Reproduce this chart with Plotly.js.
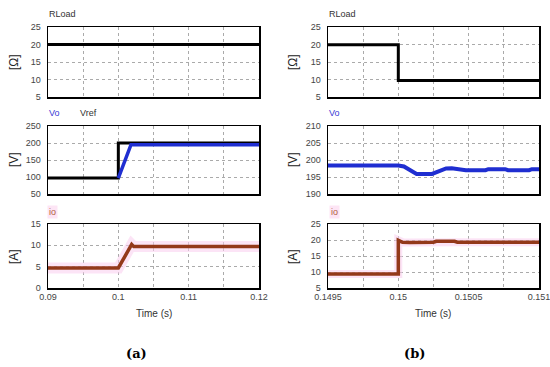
<!DOCTYPE html>
<html><head><meta charset="utf-8">
<script src="https://cdn.plot.ly/plotly-3.0.1.min.js"></script>
<style>html,body{margin:0;padding:0;background:#fff}#c{width:550px;height:367px}</style>
</head><body><div id="c"></div>
<script>
// ---- data: panel (a) ----
const tA_R = [0.09, 0.1202];
const rA = [20, 20];
const tA_ref = [0.09, 0.1, 0.1, 0.1202];
const vrefA = [97, 97, 200, 200];
const tA_vo = [0.1, 0.1018, 0.1202];
const voA = [97, 195, 195];
const tA_io = [0.09, 0.1, 0.1019, 0.1022, 0.1202];
const ioA = [4.7, 4.7, 10.2, 9.7, 9.7];
// ---- data: panel (b) ----
const tB_R = [0.1495, 0.15, 0.15, 0.1511];
const rB = [19.9, 19.9, 9.7, 9.7];
const tB_vo = [0.1495, 0.15, 0.15004, 0.15008, 0.15013, 0.15024, 0.15028, 0.15034, 0.15038, 0.15044, 0.15048, 0.15062, 0.15064, 0.15076, 0.15078, 0.15093, 0.15095, 0.1511];
const voB = [198.4, 198.4, 198.1, 197.0, 195.9, 195.9, 196.5, 197.5, 197.6, 197.2, 197.0, 197.0, 197.3, 197.3, 197.0, 197.0, 197.3, 197.3];
const tB_io = [0.1495, 0.15, 0.15, 0.15003, 0.15008, 0.15025, 0.15027, 0.1504, 0.15042, 0.1511];
const ioB = [9.4, 9.4, 19.9, 19.3, 19.2, 19.3, 19.6, 19.6, 19.3, 19.3];
// tick labels
const xTicksA = [0.09, 0.1, 0.11, 0.12];
const xTextA = ['0.09', '0.1', '0.11', '0.12'];
const xTicksB = [0.1495, 0.15, 0.1505, 0.151];
const xTextB = ['0.1495', '0.15', '0.1505', '0.151'];

const BLUE = '#1f2ed1', BROWN = '#93391a', PINK = 'rgba(250,205,238,0.55)';
const traces = [
  {x: tA_R, y: rA, xaxis: 'x', yaxis: 'y', mode: 'lines', line: {color: '#000', width: 3}},
  {x: tA_ref, y: vrefA, xaxis: 'x2', yaxis: 'y2', mode: 'lines', line: {color: '#000', width: 3}},
  {x: tA_vo, y: voA, xaxis: 'x2', yaxis: 'y2', mode: 'lines', line: {color: BLUE, width: 3.5}},
  {x: tA_io, y: ioA, xaxis: 'x3', yaxis: 'y3', mode: 'lines', line: {color: PINK, width: 11}},
  {x: tA_io, y: ioA, xaxis: 'x3', yaxis: 'y3', mode: 'lines', line: {color: BROWN, width: 3.5}},
  {x: tB_R, y: rB, xaxis: 'x4', yaxis: 'y4', mode: 'lines', line: {color: '#000', width: 3}},
  {x: tB_vo, y: voB, xaxis: 'x5', yaxis: 'y5', mode: 'lines', line: {color: BLUE, width: 4}},
  {x: tB_io, y: ioB, xaxis: 'x6', yaxis: 'y6', mode: 'lines', line: {color: PINK, width: 8}},
  {x: tB_io, y: ioB, xaxis: 'x6', yaxis: 'y6', mode: 'lines', line: {color: BROWN, width: 3.5}}
];
traces.forEach(t => { t.showlegend = false; t.hoverinfo = 'skip'; });

const W = 550, H = 367;
const px = v => v / W, py = v => 1 - v / H;
const domL = [px(48), px(259)], domR = [px(328), px(539)];
const domT = [py(97), py(27)], domM = [py(194), py(126)], domB = [py(288), py(224)];
const tickFont = {family: 'Liberation Sans, Arial, sans-serif', size: 9, color: '#444'};
function xa(dom, range, anchor, minor, vals, text, labels) {
  return {domain: dom, range: range, anchor: anchor, showline: true, mirror: true, linecolor: '#000', linewidth: 1.5,
    showgrid: true, gridcolor: '#aaa', griddash: 'dot', gridwidth: 1, zeroline: false, ticks: '',
    tickmode: 'array', tickvals: vals, ticktext: text, showticklabels: labels, tickfont: tickFont,
    ticklabeloverflow: 'allow',
    minor: {dtick: minor, tick0: range[0], showgrid: true, gridcolor: '#aaa', griddash: 'dot', gridwidth: 1, ticks: ''}};
}
function ya(dom, range, anchor, dtick) {
  return {domain: dom, range: range, anchor: anchor, showline: true, mirror: true, linecolor: '#000', linewidth: 1.5,
    showgrid: true, gridcolor: '#aaa', griddash: 'dot', gridwidth: 1, zeroline: false, ticks: '',
    dtick: dtick, tick0: range[0], tickfont: tickFont, ticklabelstandoff: 4};
}
const lab = {family: 'Liberation Sans, Arial, sans-serif', size: 9, color: '#333'};
function ann(text, x, y, font, extra) {
  return Object.assign({text: text, xref: 'paper', yref: 'paper', x: px(x), y: py(y), showarrow: false,
    xanchor: 'left', yanchor: 'middle', font: font}, extra || {});
}
const axFont = {family: 'Liberation Sans, Arial, sans-serif', size: 12, color: '#222'};
const capFont = {family: 'DejaVu Serif, serif', size: 13, color: '#000'};
const RA = [0.09, 0.120001], RB = [0.1495, 0.1510005];
const layout = {
  width: W, height: H, autosize: false, margin: {l: 0, r: 0, t: 0, b: 0},
  paper_bgcolor: '#fff', plot_bgcolor: '#fff', showlegend: false,
  xaxis: xa(domL, RA, 'y', 0.005, xTicksA, xTextA, false),
  yaxis: ya(domT, [5, 25], 'x', 5),
  xaxis2: xa(domL, RA, 'y2', 0.005, xTicksA, xTextA, false),
  yaxis2: ya(domM, [50, 250], 'x2', 50),
  xaxis3: xa(domL, RA, 'y3', 0.005, xTicksA, xTextA, true),
  yaxis3: ya(domB, [0, 15], 'x3', 5),
  xaxis4: xa(domR, RB, 'y4', 0.00025, xTicksB, xTextB, false),
  yaxis4: ya(domT, [5, 25], 'x4', 5),
  xaxis5: xa(domR, RB, 'y5', 0.00025, xTicksB, xTextB, false),
  yaxis5: ya(domM, [190, 210], 'x5', 5),
  xaxis6: xa(domR, RB, 'y6', 0.00025, xTicksB, xTextB, true),
  yaxis6: ya(domB, [5, 25], 'x6', 5),
  annotations: [
    ann('RLoad', 47, 14, lab), ann('RLoad', 327, 14, lab),
    ann('Vo', 47, 113, Object.assign({}, lab, {color: '#3a3ad6'})),
    ann('Vref', 78, 113, lab),
    ann('Vo', 327, 113, Object.assign({}, lab, {color: '#3a3ad6'})),
    ann('io', 47, 212, Object.assign({}, lab, {color: '#b06040'}), {bgcolor: 'rgba(252,222,242,0.8)'}),
    ann('io', 329, 212, Object.assign({}, lab, {color: '#b06040'}), {bgcolor: 'rgba(252,222,242,0.8)'}),
    ann('Time (s)', 154, 313, Object.assign({}, lab, {size: 10}), {xanchor: 'center'}),
    ann('Time (s)', 433, 313, Object.assign({}, lab, {size: 10}), {xanchor: 'center'}),
    ann('[Ω]', 14, 62, axFont, {xanchor: 'center', textangle: -90}),
    ann('[V]', 14, 160, axFont, {xanchor: 'center', textangle: -90}),
    ann('[A]', 14, 257, axFont, {xanchor: 'center', textangle: -90}),
    ann('[Ω]', 293, 62, axFont, {xanchor: 'center', textangle: -90}),
    ann('[V]', 293, 160, axFont, {xanchor: 'center', textangle: -90}),
    ann('[A]', 293, 257, axFont, {xanchor: 'center', textangle: -90}),
    ann('<b>(a)</b>', 136, 353, capFont, {xanchor: 'center'}),
    ann('<b>(b)</b>', 414, 353, capFont, {xanchor: 'center'})
  ]
};
Plotly.newPlot('c', traces, layout, {staticPlot: true, displayModeBar: false});
</script>
</body></html>
